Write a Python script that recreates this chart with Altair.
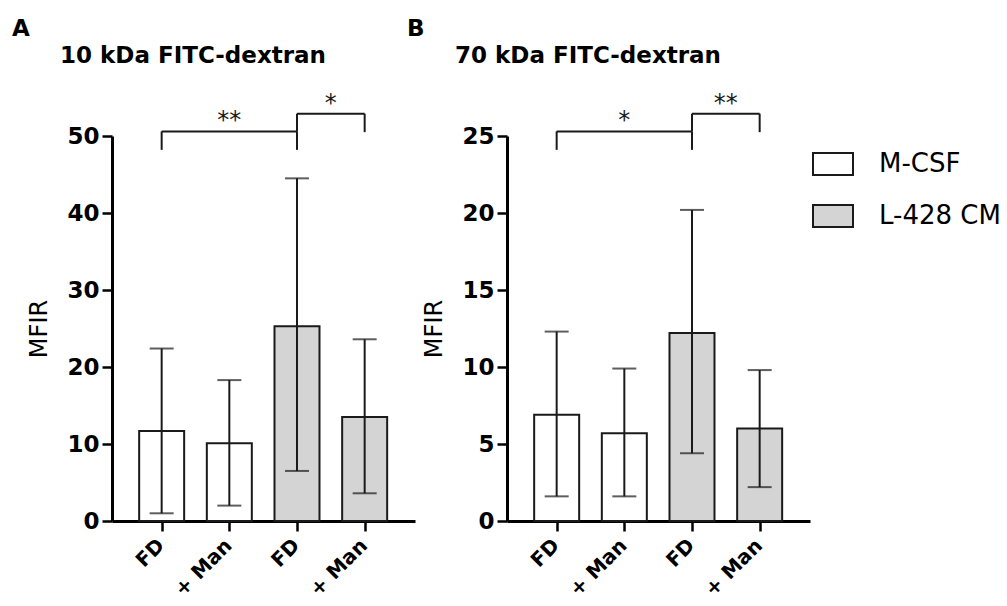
import altair as alt
import pandas as pd

FONT = "DejaVu Sans"

# ---- data ----
positions = [1, 2, 3, 4]
x_labels = ["FD", "+ Man", "FD", "+ Man"]
groups = ["M-CSF", "M-CSF", "L-428 CM", "L-428 CM"]
legend_groups = ["M-CSF", "L-428 CM"]
legend_fill = ["#ffffff", "#d4d4d4"]

a_mean = [11.7, 10.1, 25.3, 13.5]
a_upper = [22.4, 18.3, 44.5, 23.6]
a_lower = [1.0, 2.0, 6.5, 3.6]

b_mean = [6.9, 5.7, 12.2, 6.0]
b_upper = [12.3, 9.9, 20.2, 9.8]
b_lower = [1.6, 1.6, 4.4, 2.2]

# significance brackets: start, end, top, bottom of start leg, bottom of end leg, label
a_br_start = [1, 3]
a_br_end = [3, 4]
a_br_top = [50.6, 52.9]
a_br_left_bottom = [48.2, 50.6]
a_br_right_bottom = [48.2, 50.5]
a_br_label = ["**", "*"]

b_br_start = [1, 3]
b_br_end = [3, 4]
b_br_top = [25.3, 26.45]
b_br_left_bottom = [24.1, 25.3]
b_br_right_bottom = [24.1, 25.25]
b_br_label = ["*", "**"]

label_js = "[" + ",".join("'" + s + "'" for s in x_labels) + "][datum.value - 1]"


def panel(mean, upper, lower, bs, be, bt, blb, brb, blab, ymax, ystep, title, letter):
    df = pd.DataFrame({"pos": positions, "group": groups, "mean": mean,
                       "upper": upper, "lower": lower})
    hz = pd.DataFrame({"x": bs, "x2": be, "y": bt})
    legs = pd.DataFrame({"x": bs + be, "y": bt + bt, "y2": blb + brb})
    stars = pd.DataFrame({"x": [(s + e) / 2 for s, e in zip(bs, be)], "y": bt, "t": blab})

    xscale = alt.Scale(domain=[0.34, 4.67], nice=False, zero=False)
    yscale = alt.Scale(domain=[0, ymax], nice=False)

    xaxis = alt.Axis(values=positions, labelExpr=label_js, labelAngle=-45,
                     labelOverlap=False, labelFlush=False, labelBound=False,
                     labelFont=FONT, labelFontSize=20, labelFontWeight="bold",
                     labelColor="black", domainColor="black", domainWidth=3,
                     tickColor="black", tickWidth=2.5, tickSize=10, grid=False,
                     labelPadding=4, labelOffset=-8, title=None)
    yaxis = alt.Axis(values=list(range(0, ymax + 1, ystep)), labelFont=FONT,
                     labelOverlap=False,
                     labelFontSize=23, labelFontWeight="bold", labelColor="black",
                     domainColor="black", domainWidth=3, tickColor="black",
                     tickWidth=2.5, tickSize=10, grid=False, labelPadding=3,
                     title="MFIR", titleFont=FONT, titleFontSize=24,
                     titleFontWeight="normal", titleColor="black", titlePadding=15)

    base = alt.Chart(df)
    bars = base.mark_bar(size=45, stroke="#1a1a1a", strokeWidth=2).encode(
        x=alt.X("pos:Q", scale=xscale, axis=xaxis),
        y=alt.Y("mean:Q", scale=yscale, axis=yaxis),
        fill=alt.Fill("group:N", scale=alt.Scale(domain=legend_groups, range=legend_fill),
                      legend=alt.Legend(title=None, orient="none", legendX=700, legendY=7,
                                        symbolType="M-1,-0.55H1V0.55H-1Z", symbolSize=1600,
                                        symbolStrokeColor="#1a1a1a", symbolStrokeWidth=2,
                                        labelFont=FONT, labelFontSize=26, labelColor="black",
                                        labelOffset=25, rowPadding=16, padding=0)),
    )
    err = base.mark_rule(color="#1a1a1a", strokeWidth=2).encode(
        x="pos:Q", y="lower:Q", y2="upper:Q")
    cap_hi = base.mark_tick(orient="horizontal", size=24, thickness=2, color="#1a1a1a").encode(
        x="pos:Q", y="upper:Q")
    cap_lo = base.mark_tick(orient="horizontal", size=24, thickness=2, color="#1a1a1a").encode(
        x="pos:Q", y="lower:Q")
    br_h = alt.Chart(hz).mark_rule(color="#1a1a1a", strokeWidth=2).encode(
        x="x:Q", x2="x2:Q", y="y:Q")
    br_v = alt.Chart(legs).mark_rule(color="#1a1a1a", strokeWidth=2).encode(
        x="x:Q", y="y:Q", y2="y2:Q")
    st = alt.Chart(stars).mark_text(font=FONT, fontSize=24, baseline="alphabetic",
                                    dy=-3, color="#1a1a1a").encode(
        x="x:Q", y="y:Q", text="t:N")
    lt = alt.Chart(pd.DataFrame({"t": [letter]})).mark_text(
        font=FONT, fontSize=23, fontWeight="bold", align="left", baseline="alphabetic",
        color="black").encode(x=alt.value(-100), y=alt.value(-100), text="t:N")

    return alt.layer(bars, err, cap_hi, cap_lo, br_h, br_v, st, lt).properties(
        width=303, height=385,
        title=alt.TitleParams(title, anchor="start", frame="group", dx=-52, offset=-50,
                              font=FONT, fontSize=23, fontWeight="bold", color="black"),
    )


pA = panel(a_mean, a_upper, a_lower, a_br_start, a_br_end, a_br_top, a_br_left_bottom,
           a_br_right_bottom, a_br_label, 50, 10, "10 kDa FITC-dextran", "A")
pB = panel(b_mean, b_upper, b_lower, b_br_start, b_br_end, b_br_top, b_br_left_bottom,
           b_br_right_bottom, b_br_label, 25, 5, "70 kDa FITC-dextran", "B")

chart = alt.hconcat(pA, pB, spacing=92, bounds="flush").properties(
    padding={"left": 12, "top": 18, "right": 0, "bottom": 0}
).configure(background="white", view=alt.ViewConfig(stroke=None))

chart.save("out.html", embed_options={"renderer": "svg", "actions": False})
